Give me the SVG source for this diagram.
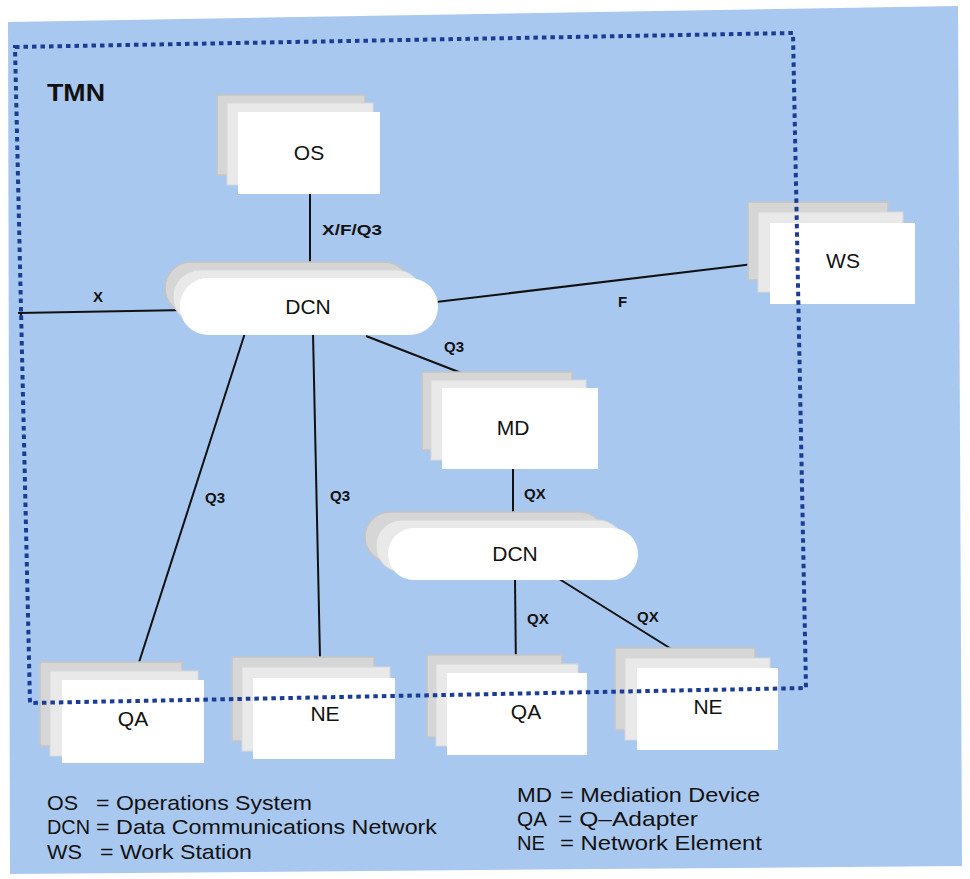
<svg xmlns="http://www.w3.org/2000/svg" width="970" height="879" viewBox="0 0 970 879">
<style>
.l1{fill:#d6d6d6;stroke:#c4c4c4;stroke-width:1.5}
.l2{fill:#e9e9e9;stroke:#d8d8d8;stroke-width:1}
.fr{fill:#ffffff}
.nt{font-family:"Liberation Sans",Arial,sans-serif;font-size:21px;fill:#111;text-anchor:middle}
.lb{font-family:"Liberation Sans",Arial,sans-serif;font-size:15px;font-weight:bold;fill:#111}
.ln{stroke:#111;stroke-width:2;fill:none}
.lg{font-family:"Liberation Sans Narrow","Liberation Sans",Arial,sans-serif;font-size:21px;fill:#111}
</style>
<rect width="970" height="879" fill="#ffffff"/>
<polygon points="8,22 958,6 962,866 10,874" fill="#a9c8f0"/>
<text x="47" y="101" font-family="Liberation Sans,Arial,sans-serif" font-size="23" font-weight="bold" fill="#111" textLength="58" lengthAdjust="spacingAndGlyphs">TMN</text>

<g id="connectors">
<line class="ln" x1="310" y1="193" x2="310" y2="264"/>
<line class="ln" x1="18" y1="313" x2="187" y2="310"/>
<line class="ln" x1="21" y1="312" x2="21" y2="319"/>
<line class="ln" x1="436" y1="302" x2="770" y2="262"/>
<line class="ln" x1="245" y1="333" x2="133" y2="681"/>
<line class="ln" x1="313" y1="333" x2="320" y2="658"/>
<line class="ln" x1="366" y1="336" x2="500" y2="388"/>
<line class="ln" x1="513" y1="468" x2="513" y2="529"/>
<line class="ln" x1="515" y1="579" x2="516" y2="674"/>
<line class="ln" x1="556" y1="577" x2="705" y2="670"/>
<text class="lb" x="322" y="235" textLength="60" lengthAdjust="spacingAndGlyphs">X/F/Q3</text>
<text class="lb" x="93" y="302">X</text>
<text class="lb" x="618" y="307">F</text>
<text class="lb" x="205" y="503">Q3</text>
<text class="lb" x="330" y="501">Q3</text>
<text class="lb" x="444" y="352">Q3</text>
<text class="lb" x="524" y="499">QX</text>
<text class="lb" x="527" y="624">QX</text>
<text class="lb" x="637" y="622">QX</text>
</g>

<g id="OS">
<rect class="l1" x="217" y="95" width="148" height="80"/>
<rect class="l2" x="227" y="103" width="146" height="82"/>
<rect class="fr" x="238" y="112" width="142" height="82"/>
<text class="nt" x="309" y="160">OS</text>
</g>

<g id="DCN1">
<rect class="l1" x="165" y="262" width="245" height="52" rx="26"/>
<rect class="l2" x="173" y="270" width="250" height="54" rx="27"/>
<rect class="fr" x="180" y="278" width="258" height="57" rx="28"/>
<text class="nt" x="308" y="314">DCN</text>
</g>

<g id="WS">
<rect class="l1" x="748" y="202" width="140" height="78"/>
<rect class="l2" x="758" y="212" width="145" height="80"/>
<rect class="fr" x="770" y="223" width="145" height="81"/>
<text class="nt" x="843" y="268">WS</text>
</g>

<g id="MD">
<rect class="l1" x="422" y="372" width="150" height="78"/>
<rect class="l2" x="431" y="380" width="155" height="80"/>
<rect class="fr" x="442" y="388" width="156" height="81"/>
<text class="nt" x="513" y="435">MD</text>
</g>

<g id="DCN2">
<rect class="l1" x="365" y="512" width="240" height="50" rx="25"/>
<rect class="l2" x="376" y="520" width="248" height="52" rx="26"/>
<rect class="fr" x="388" y="528" width="250" height="52" rx="26"/>
<text class="nt" x="515" y="561">DCN</text>
</g>

<g id="QA1">
<rect class="l1" x="40" y="662" width="142" height="84"/>
<rect class="l2" x="50" y="671" width="148" height="85"/>
<rect class="fr" x="62" y="680" width="142" height="83"/>
<text class="nt" x="133" y="726">QA</text>
</g>

<g id="NE1">
<rect class="l1" x="232" y="657" width="142" height="84"/>
<rect class="l2" x="242" y="667" width="148" height="84"/>
<rect class="fr" x="253" y="678" width="142" height="81"/>
<text class="nt" x="325" y="721">NE</text>
</g>

<g id="QA2">
<rect class="l1" x="427" y="655" width="135" height="82"/>
<rect class="l2" x="436" y="664" width="142" height="82"/>
<rect class="fr" x="447" y="673" width="140" height="82"/>
<text class="nt" x="526" y="719">QA</text>
</g>

<g id="NE2">
<rect class="l1" x="615" y="648" width="140" height="82"/>
<rect class="l2" x="625" y="658" width="145" height="82"/>
<rect class="fr" x="637" y="668" width="141" height="82"/>
<text class="nt" x="708" y="714">NE</text>
</g>

<polygon id="TMN" points="15,47 793,33 806,688 30,703" fill="none" stroke="#1a3c93" stroke-width="4" stroke-dasharray="4.5 4"/>

<g id="legend">
<text class="lg" x="47" y="810" textLength="31" lengthAdjust="spacingAndGlyphs">OS</text>
<text class="lg" x="96" y="810" textLength="216" lengthAdjust="spacingAndGlyphs">= Operations System</text>
<text class="lg" x="47" y="834" textLength="43" lengthAdjust="spacingAndGlyphs">DCN</text>
<text class="lg" x="96" y="834" textLength="341" lengthAdjust="spacingAndGlyphs">= Data Communications Network</text>
<text class="lg" x="47" y="859" textLength="35" lengthAdjust="spacingAndGlyphs">WS</text>
<text class="lg" x="100" y="859" textLength="152" lengthAdjust="spacingAndGlyphs">= Work Station</text>
<text class="lg" x="517" y="802" textLength="35" lengthAdjust="spacingAndGlyphs">MD</text>
<text class="lg" x="560" y="802" textLength="200" lengthAdjust="spacingAndGlyphs">= Mediation Device</text>
<text class="lg" x="517" y="826" textLength="30" lengthAdjust="spacingAndGlyphs">QA</text>
<text class="lg" x="558" y="826" textLength="140" lengthAdjust="spacingAndGlyphs">= Q–Adapter</text>
<text class="lg" x="517" y="850" textLength="28" lengthAdjust="spacingAndGlyphs">NE</text>
<text class="lg" x="560" y="850" textLength="202" lengthAdjust="spacingAndGlyphs">= Network Element</text>
</g>
</svg>
